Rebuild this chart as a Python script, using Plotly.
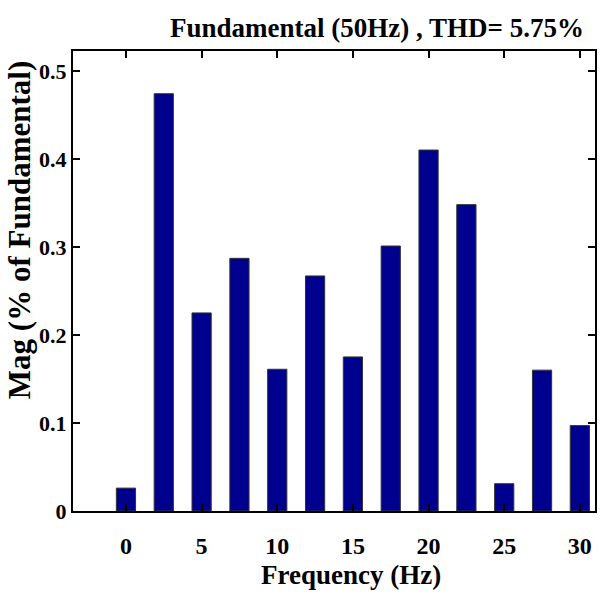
import plotly.graph_objects as go

freqs = [0, 2.5, 5, 7.5, 10, 12.5, 15, 17.5, 20, 22.5, 25, 27.5, 30]
mags = [0.026, 0.474, 0.225, 0.287, 0.161, 0.267, 0.175, 0.301, 0.410, 0.348, 0.031, 0.160, 0.097]
x_ticks = [0, 5, 10, 15, 20, 25, 30]
y_ticks = [0, 0.1, 0.2, 0.3, 0.4, 0.5]
y_tick_text = ["0", "0.1", "0.2", "0.3", "0.4", "0.5"]

title_text = "Fundamental (50Hz) , THD= 5.75%"
x_title = "Frequency (Hz)"
y_title = "Mag (% of Fundamental)"

serif = "Liberation Serif"

fig = go.Figure()
fig.add_trace(go.Bar(
    x=freqs, y=mags, width=1.27,
    marker=dict(color="#00008F", line=dict(color="#333333", width=1)),
))

fig.update_layout(
    width=605, height=603,
    margin=dict(l=73, r=7.5, t=51, b=92),
    paper_bgcolor="white", plot_bgcolor="white",
    showlegend=False,
    font=dict(family=serif, color="black"),
    xaxis=dict(
        range=[-3.5, 31], tickvals=x_ticks, ticktext=[str(v) for v in x_ticks],
        showline=True, linecolor="black", linewidth=2, mirror="ticks",
        ticks="inside", ticklen=7, tickwidth=2, tickcolor="black",
        showgrid=False, zeroline=False,
        tickfont=dict(family=serif, size=24, color="black", weight="bold"),
        ticklabelstandoff=12,
    ),
    yaxis=dict(
        range=[0, 0.5225], tickvals=y_ticks, ticktext=y_tick_text,
        showline=True, linecolor="black", linewidth=2, mirror="ticks",
        ticks="inside", ticklen=7, tickwidth=2, tickcolor="black",
        showgrid=False, zeroline=False,
        tickfont=dict(family=serif, size=22, color="black", weight="bold"),
        ticklabelstandoff=0,
    ),
    annotations=[
        dict(text=title_text, xref="paper", yref="paper", x=0.583, y=1.05,
             xanchor="center", yanchor="middle", showarrow=False,
             font=dict(family=serif, size=27, color="black", weight="bold")),
        dict(text=x_title, xref="paper", yref="paper", x=0.532, y=-0.139,
             xanchor="center", yanchor="middle", showarrow=False,
             font=dict(family=serif, size=27, color="black", weight="bold")),
        dict(text=y_title, xref="paper", yref="paper", x=-0.102, y=0.61,
             xanchor="center", yanchor="middle", showarrow=False, textangle=-90,
             font=dict(family=serif, size=31, color="black", weight="bold")),
    ],
)

fig.write_html("out.html")
